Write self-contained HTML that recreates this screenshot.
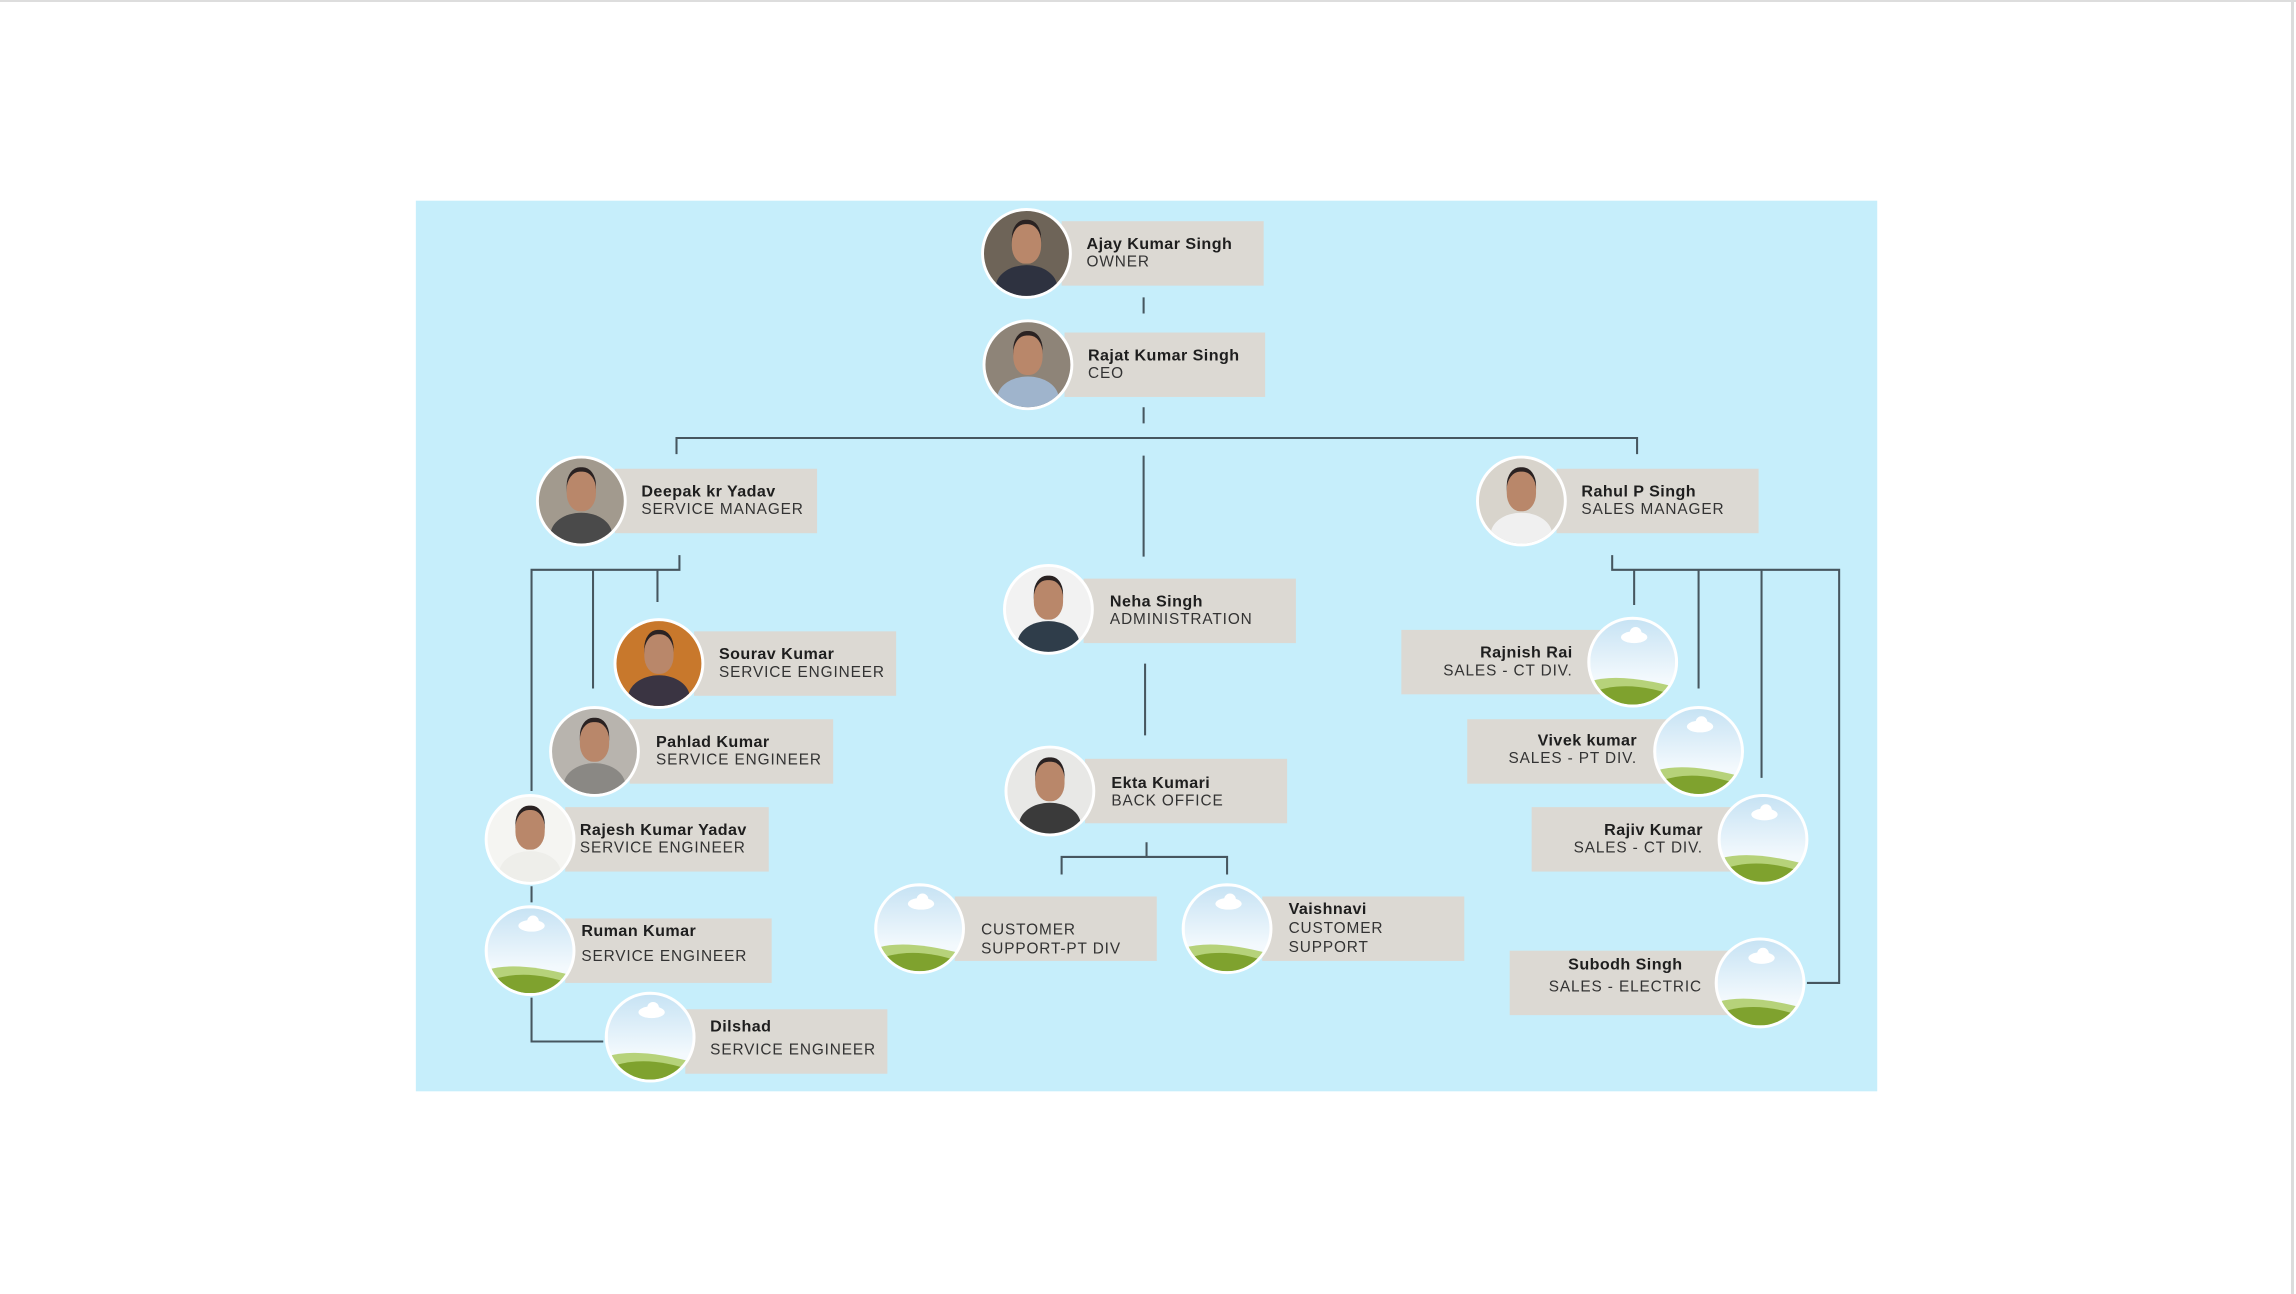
<!DOCTYPE html>
<html><head><meta charset="utf-8"><style>
html,body{margin:0;padding:0;background:#fff;overflow:hidden}
#root{position:absolute;left:0;top:0;width:2296px;height:1292px;background:#fff;border-top:2px solid #ddd;box-sizing:border-box}
#rb{position:absolute;right:2px;top:0;width:3px;height:1292px;background:#dcdcdc}
#s{position:absolute;left:0;top:-2px;width:1568px;height:882px;transform:scale(1.46429,1.46485);transform-origin:0 0}
#panel{position:absolute;left:284px;top:137px;width:998px;height:608px;background:#c6eefb}
.b{position:absolute;background:#dcd9d3;height:44px}
.t{position:absolute;font-family:"Liberation Sans",sans-serif;color:#1e1e1e;white-space:nowrap;line-height:12px}
.n{font-weight:bold;font-size:11px;letter-spacing:.3px}
.r{font-size:10.5px;letter-spacing:.6px;color:#333}
.c{position:absolute;width:62px;height:62px;border-radius:50%;border:2px solid #fff;box-sizing:border-box;overflow:hidden}
.p{background:#8a7a6c}
.p::before{content:"";position:absolute;left:19px;top:9px;width:20px;height:27px;border-radius:45%;background:#b9876a;box-shadow:0 -3px 0 #2a2222;z-index:1}
.p::after{content:"";position:absolute;left:8px;top:37px;width:42px;height:30px;border-radius:50% 50% 0 0;background:var(--body,#3a3f4a)}
.l{background:#fff}
svg.lines{position:absolute;left:0;top:0}
</style></head><body><div id="root"><div id="rb"></div>
<div id="s">
<div id="panel"></div>
<svg class="lines" width="1568" height="882"><g stroke="#46565f" stroke-width="1.4" fill="none">
<path d="M781 203V214M781 278V289M462 310V299H1118V310M781 311V380M782 453V502"/>
<path d="M464 379V389H363V540M405 389V470M449 389V411M363 605V616M363 681V711H412"/>
<path d="M1101 379V389H1256V671H1234M1116 389V413M1160 389V470M1203 389V531"/>
<path d="M783 575V585M725 597V585H838V597"/>
</g></svg>

<div class="b" style="left:725px;top:151px;width:138px"></div>
<div class="b" style="left:727px;top:227px;width:137px"></div>
<div class="b" style="left:420px;top:320px;width:138px"></div>
<div class="b" style="left:1063px;top:320px;width:138px"></div>
<div class="b" style="left:740px;top:395px;width:145px"></div>
<div class="b" style="left:474px;top:431px;width:138px"></div>
<div class="b" style="left:430px;top:491px;width:139px"></div>
<div class="b" style="left:386px;top:551px;width:139px"></div>
<div class="b" style="left:386px;top:627px;width:141px"></div>
<div class="b" style="left:468px;top:689px;width:138px"></div>
<div class="b" style="left:741px;top:518px;width:138px"></div>
<div class="b" style="left:652px;top:612px;width:138px"></div>
<div class="b" style="left:862px;top:612px;width:138px"></div>
<div class="b" style="left:957px;top:430px;width:143px"></div>
<div class="b" style="left:1002px;top:491px;width:143px"></div>
<div class="b" style="left:1046px;top:551px;width:144px"></div>
<div class="b" style="left:1031px;top:649px;width:159px"></div>

<div class="c p" style="left:670px;top:142px;background:#6e6458;--body:#2e3240"></div>
<div class="c p" style="left:671px;top:218px;background:#8e8478;--body:#9fb4cc"></div>
<div class="c p" style="left:366px;top:311px;background:#a29a8e;--body:#4a4a4a"></div>
<div class="c p" style="left:1008px;top:311px;background:#d8d4cc;--body:#f0f0f0"></div>
<div class="c p" style="left:685px;top:385px;background:#f2f2f2;--body:#2f3d4a"></div>
<div class="c p" style="left:419px;top:422px;background:#c8782c;--body:#3a3442"></div>
<div class="c p" style="left:375px;top:482px;background:#b8b4ae;--body:#8a8884"></div>
<div class="c p" style="left:331px;top:542px;background:#f5f5f2;--body:#eeeeea"></div>
<div class="c p" style="left:686px;top:509px;background:#e8e8e6;--body:#3a3a3a"></div>

<div class="c l" style="left:331px;top:618px"><svg width="58" height="58" viewBox="0 0 58 58"><defs><linearGradient id="g" x1="0" y1="0" x2="0" y2="1"><stop offset="0" stop-color="#c7e3f4"/><stop offset=".7" stop-color="#f3f9fd"/></linearGradient></defs><rect width="58" height="58" fill="url(#g)"/><ellipse cx="30" cy="12" rx="9" ry="4" fill="#fff"/><circle cx="31" cy="9" r="4" fill="#fff"/><path d="M0 42Q20 36 58 46V58H0Z" fill="#b6d27a"/><path d="M0 50Q25 40 58 52V58H0Z" fill="#7fa22e"/></svg></div>
<div class="c l" style="left:413px;top:677px"><svg width="58" height="58" viewBox="0 0 58 58"><rect width="58" height="58" fill="url(#g)"/><ellipse cx="30" cy="12" rx="9" ry="4" fill="#fff"/><circle cx="31" cy="9" r="4" fill="#fff"/><path d="M0 42Q20 36 58 46V58H0Z" fill="#b6d27a"/><path d="M0 50Q25 40 58 52V58H0Z" fill="#7fa22e"/></svg></div>
<div class="c l" style="left:597px;top:603px"><svg width="58" height="58" viewBox="0 0 58 58"><rect width="58" height="58" fill="url(#g)"/><ellipse cx="30" cy="12" rx="9" ry="4" fill="#fff"/><circle cx="31" cy="9" r="4" fill="#fff"/><path d="M0 42Q20 36 58 46V58H0Z" fill="#b6d27a"/><path d="M0 50Q25 40 58 52V58H0Z" fill="#7fa22e"/></svg></div>
<div class="c l" style="left:807px;top:603px"><svg width="58" height="58" viewBox="0 0 58 58"><rect width="58" height="58" fill="url(#g)"/><ellipse cx="30" cy="12" rx="9" ry="4" fill="#fff"/><circle cx="31" cy="9" r="4" fill="#fff"/><path d="M0 42Q20 36 58 46V58H0Z" fill="#b6d27a"/><path d="M0 50Q25 40 58 52V58H0Z" fill="#7fa22e"/></svg></div>
<div class="c l" style="left:1084px;top:421px"><svg width="58" height="58" viewBox="0 0 58 58"><rect width="58" height="58" fill="url(#g)"/><ellipse cx="30" cy="12" rx="9" ry="4" fill="#fff"/><circle cx="31" cy="9" r="4" fill="#fff"/><path d="M0 42Q20 36 58 46V58H0Z" fill="#b6d27a"/><path d="M0 50Q25 40 58 52V58H0Z" fill="#7fa22e"/></svg></div>
<div class="c l" style="left:1129px;top:482px"><svg width="58" height="58" viewBox="0 0 58 58"><rect width="58" height="58" fill="url(#g)"/><ellipse cx="30" cy="12" rx="9" ry="4" fill="#fff"/><circle cx="31" cy="9" r="4" fill="#fff"/><path d="M0 42Q20 36 58 46V58H0Z" fill="#b6d27a"/><path d="M0 50Q25 40 58 52V58H0Z" fill="#7fa22e"/></svg></div>
<div class="c l" style="left:1173px;top:542px"><svg width="58" height="58" viewBox="0 0 58 58"><rect width="58" height="58" fill="url(#g)"/><ellipse cx="30" cy="12" rx="9" ry="4" fill="#fff"/><circle cx="31" cy="9" r="4" fill="#fff"/><path d="M0 42Q20 36 58 46V58H0Z" fill="#b6d27a"/><path d="M0 50Q25 40 58 52V58H0Z" fill="#7fa22e"/></svg></div>
<div class="c l" style="left:1171px;top:640px"><svg width="58" height="58" viewBox="0 0 58 58"><rect width="58" height="58" fill="url(#g)"/><ellipse cx="30" cy="12" rx="9" ry="4" fill="#fff"/><circle cx="31" cy="9" r="4" fill="#fff"/><path d="M0 42Q20 36 58 46V58H0Z" fill="#b6d27a"/><path d="M0 50Q25 40 58 52V58H0Z" fill="#7fa22e"/></svg></div>

<div class="t" style="left:742px;top:161px"><div class="n">Ajay Kumar Singh</div><div class="r">OWNER</div></div>
<div class="t" style="left:743px;top:237px"><div class="n">Rajat Kumar Singh</div><div class="r">CEO</div></div>
<div class="t" style="left:438px;top:330px"><div class="n">Deepak kr Yadav</div><div class="r">SERVICE MANAGER</div></div>
<div class="t" style="left:1080px;top:330px"><div class="n">Rahul P Singh</div><div class="r">SALES MANAGER</div></div>
<div class="t" style="left:758px;top:405px"><div class="n">Neha Singh</div><div class="r">ADMINISTRATION</div></div>
<div class="t" style="left:491px;top:441px"><div class="n">Sourav Kumar</div><div class="r">SERVICE ENGINEER</div></div>
<div class="t" style="left:448px;top:501px"><div class="n">Pahlad Kumar</div><div class="r">SERVICE ENGINEER</div></div>
<div class="t" style="left:396px;top:561px"><div class="n">Rajesh Kumar Yadav</div><div class="r">SERVICE ENGINEER</div></div>
<div class="t" style="left:397px;top:630px"><div class="n">Ruman Kumar</div><div class="r" style="margin-top:5px">SERVICE ENGINEER</div></div>
<div class="t" style="left:485px;top:695px"><div class="n">Dilshad</div><div class="r" style="margin-top:4px">SERVICE ENGINEER</div></div>
<div class="t" style="left:759px;top:529px"><div class="n">Ekta Kumari</div><div class="r">BACK OFFICE</div></div>
<div class="t" style="left:670px;top:629px"><div class="r" style="line-height:13px">CUSTOMER<br>SUPPORT-PT DIV</div></div>
<div class="t" style="left:880px;top:615px"><div class="n" style="line-height:13px">Vaishnavi</div><div class="r" style="line-height:13px">CUSTOMER<br>SUPPORT</div></div>
<div class="t" style="right:494px;top:440px;text-align:right"><div class="n">Rajnish Rai</div><div class="r">SALES - CT DIV.</div></div>
<div class="t" style="right:450px;top:500px;text-align:right"><div class="n">Vivek kumar</div><div class="r">SALES - PT DIV.</div></div>
<div class="t" style="right:405px;top:561px;text-align:right"><div class="n">Rajiv Kumar</div><div class="r">SALES - CT DIV.</div></div>
<div class="t" style="left:1040px;top:653px;width:140px;text-align:center"><div class="n">Subodh Singh</div><div class="r" style="margin-top:3px">SALES - ELECTRIC</div></div>
</div></div></body></html>
